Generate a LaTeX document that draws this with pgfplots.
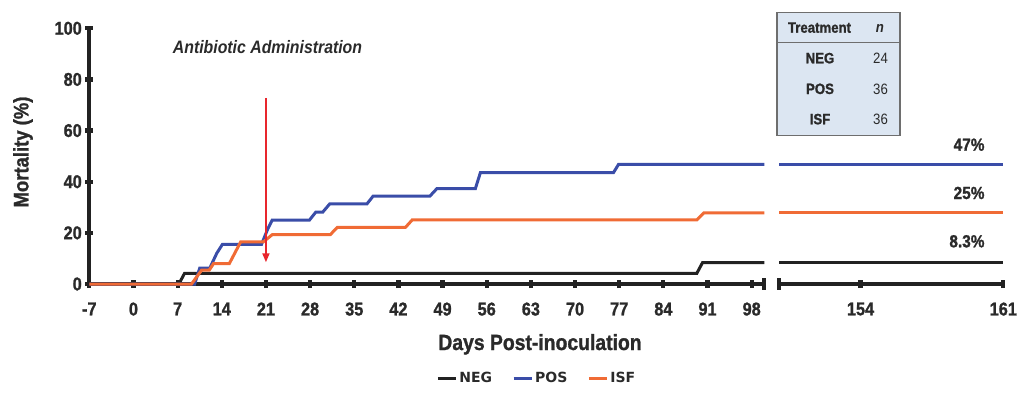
\documentclass[border=0pt]{standalone}
\usepackage{fontspec}
\usepackage{pgfplots}
\pgfplotsset{compat=1.18}
\usetikzlibrary{arrows.meta}
\setmainfont{Liberation Sans}
\newfontfamily\cond{Liberation Sans}[FakeStretch=0.88, BoldFeatures={FakeBold=1.2}]
\newfontfamily\legfont{DejaVu Sans}
\definecolor{negc}{HTML}{222222}
\definecolor{posc}{HTML}{3A4DA8}
\definecolor{isfc}{HTML}{F06B35}
\definecolor{arrowc}{HTML}{E8262D}
\definecolor{axc}{HTML}{222222}
\definecolor{txtc}{HTML}{2A2A2A}
\definecolor{tabfill}{HTML}{DCE6F2}
\definecolor{tabdraw}{HTML}{6E6E6E}

\pgfplotsset{
  brk/.style={
    scale only axis, height=255.7bp,
    ymin=0, ymax=100,
    clip=false,
    tick style={line width=4.2bp, draw=axc},
    major tick length=8bp,
    tick align=outside,
    minor tick num=0,
    /pgf/number format/assume math mode=true,
    tick label style={font=\cond\bfseries\fontsize{18.5bp}{20bp}\selectfont, text=txtc},
    xticklabel style={yshift=-11bp},
  },
  linesfix/.style={
    axis line style={-, line width=4.3bp, draw=axc},
    every outer x axis line/.append style={-},
    every outer y axis line/.append style={-},
    every inner x axis line/.append style={-},
    every inner y axis line/.append style={-},
    x axis line style={-},
    y axis line style={-},
  },
}

\begin{document}
\begin{tikzpicture}
\useasboundingbox (0bp,0bp) rectangle (1024bp,-395bp);

% ---------- left panel ----------
\begin{axis}[brk,
  at={(89.3bp,-284bp)}, anchor=south west,
  width=675bp,
  xmin=-7, xmax=100,
  axis x line=bottom, axis y line=left,
  linesfix,
  xtick={-7,0,7,14,21,28,35,42,49,56,63,70,77,84,91,98},
  ytick={0,20,40,60,80,100},
  legend style={at={(0.663,-0.368)}, anchor=center, draw=none, fill=none,
    legend columns=3,
    font=\legfont\bfseries\fontsize{14bp}{16bp}\selectfont,
    text=txtc,
    /tikz/every even column/.append style={column sep=18bp}},
  legend image code/.code={\draw[#1, line width=3bp] (0bp,0bp) -- (18bp,0bp);},
]
\addplot[negc, line width=3bp, mark=none] coordinates {
 (-7,0) (7.2,0) (8.1,4.17) (89.3,4.17) (90.2,8.33) (100,8.33)};
\addlegendentry{NEG}
\addplot[posc, line width=3bp, mark=none] coordinates {
 (-7,0) (9.7,0) (10.5,6.2) (12.1,6.2) (13.2,12) (14.1,15.5) (20.3,15.5)
 (21.3,21.6) (22,25) (27.9,25) (28.9,28.1) (30,28.1) (31.1,31.3) (37,31.3)
 (38,34.4) (47,34.4) (48.1,37.3) (54.2,37.3) (55,43.6) (76.1,43.6) (76.9,46.8) (100,46.8)};
\addlegendentry{POS}
\addplot[isfc, line width=3bp, mark=none] coordinates {
 (-7,0) (9.2,0) (10.8,5.4) (12,5.4) (12.7,8) (15.2,8) (17,16.5) (20.6,16.5)
 (22,19.3) (31.2,19.3) (32.3,22.1) (43.1,22.1) (44.2,25.1) (89.3,25.1) (90.4,27.8) (100,27.8)};
\addlegendentry{ISF}
% break cap
\draw[axc, line width=4bp] (axis cs:100,-2.2) -- (axis cs:100,2.2);
% antibiotic arrow
\draw[arrowc, line width=1.8bp, -{Triangle[width=7bp,length=9bp]}] (axis cs:21,72.8) -- (axis cs:21,8.5);
\end{axis}

% ---------- right panel ----------
\begin{axis}[brk,
  at={(779bp,-284bp)}, anchor=south west,
  width=224.3bp,
  xmin=150, xmax=161,
  axis x line=bottom, axis y line=none,
  linesfix,
  xtick={154,161}, ytick=\empty,
]
\addplot[negc, line width=3bp, mark=none] coordinates {(150,8.33) (161,8.33)};
\addplot[posc, line width=3bp, mark=none] coordinates {(150,46.8) (161,46.8)};
\addplot[isfc, line width=3bp, mark=none] coordinates {(150,27.8) (161,27.8)};
\draw[axc, line width=4bp] (axis cs:150,-2.2) -- (axis cs:150,2.2);
\end{axis}

% ---------- labels ----------
\node[anchor=base, text=txtc, font=\cond\bfseries\fontsize{22bp}{24bp}\selectfont]
  at (540bp,-350bp) {Days Post-inoculation};
\node[rotate=90, anchor=center, text=txtc, font=\cond\bfseries\fontsize{21bp}{24bp}\selectfont]
  at (23bp,-152bp) {Mortality (\%)};
\node[anchor=base, text=txtc, font=\cond\bfseries\itshape\fontsize{18bp}{20bp}\selectfont]
  at (267.5bp,-53.3bp) {Antibiotic Administration};

% percent labels
\node[anchor=base east, text=txtc, font=\cond\bfseries\fontsize{17.5bp}{20bp}\selectfont]
  at (988bp,-150.7bp) {47\%};
\node[anchor=base east, text=txtc, font=\cond\bfseries\fontsize{17.5bp}{20bp}\selectfont]
  at (988bp,-199bp) {25\%};
\node[anchor=base east, text=txtc, font=\cond\bfseries\fontsize{17.5bp}{20bp}\selectfont]
  at (988bp,-247.3bp) {8.3\%};

% table
\draw[draw=tabdraw, fill=tabfill, line width=1.2bp] (777bp,-12.7bp) rectangle (900bp,-135.7bp);
\draw[draw=tabdraw, line width=1.2bp] (777bp,-42.7bp) -- (900bp,-42.7bp);
\begin{scope}[every node/.style={text=txtc, font=\cond\fontsize{15bp}{17bp}\selectfont}]
\node[anchor=base] at (819.5bp,-32.7bp) {\bfseries Treatment};
\node[anchor=base] at (880bp,-32.7bp) {\bfseries\itshape n};
\node[anchor=base] at (820bp,-63.3bp) {\bfseries NEG};
\node[anchor=base] at (880.5bp,-63.3bp) {24};
\node[anchor=base] at (820bp,-94bp) {\bfseries POS};
\node[anchor=base] at (880.5bp,-94bp) {36};
\node[anchor=base] at (820bp,-124.3bp) {\bfseries ISF};
\node[anchor=base] at (880.5bp,-124.3bp) {36};
\end{scope}
\end{tikzpicture}
\end{document}
